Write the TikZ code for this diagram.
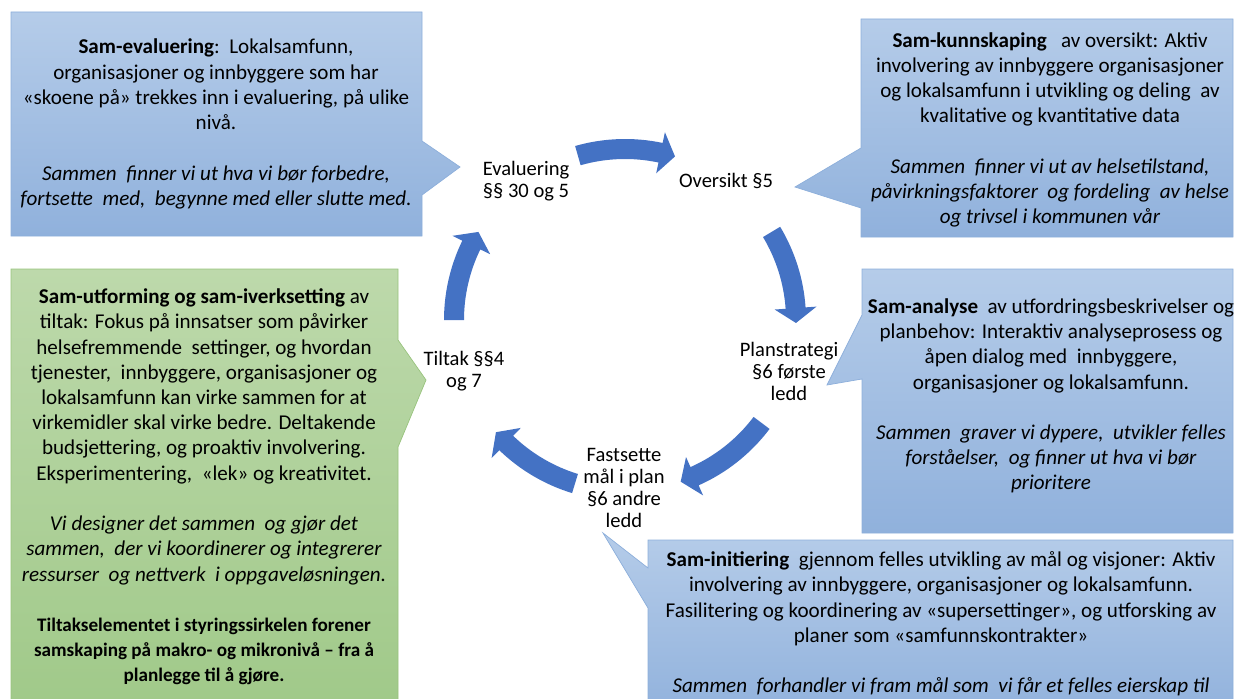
\documentclass[tikz,border=0pt]{standalone}
\usepackage{fontspec}
\setmainfont{Carlito}
\usepackage{xcolor}
\definecolor{boxtop}{HTML}{B5CCE9}
\definecolor{boxbot}{HTML}{90B1DC}
\definecolor{boxedge}{HTML}{8DAFDB}
\definecolor{greentop}{HTML}{BDD9AB}
\definecolor{greenbot}{HTML}{A0C989}
\definecolor{greenedge}{HTML}{98C37D}
\definecolor{arrowblue}{HTML}{4472C4}
\newcommand\closingline[1]{{\fontsize{10.9}{13.3}\selectfont\bfseries #1}}

\begin{document}
\begin{tikzpicture}[x=0.02cm, y=-0.02cm,
    bluecallout/.style = {draw=boxedge, top color=boxtop, bottom color=boxbot},
    greencallout/.style = {draw=greenedge, top color=greentop, bottom color=greenbot},
    boxtext/.style = {align=center, inner sep=0pt, font=\fontsize{12}{14.35}\selectfont},
    steplabel/.style = {align=center, inner sep=0pt, font=\fontsize{11.7}{12.5}\selectfont},
    cyclearrow/.style = {fill=arrowblue}]
  \clip (0,0) rectangle (1236,699);

  % callouts
  \path[bluecallout] (11,12) -- (422,12) -- (422,141) -- (460,167) -- (422,195)
    -- (422,236) -- (11,236) -- cycle;
  \path[bluecallout] (861,19) -- (1233,19) -- (1233,237) -- (861,237) -- (861,208)
    -- (795,187) -- (861,148) -- cycle;
  \path[bluecallout] (862,269) -- (1233,269) -- (1233,533) -- (862,533) -- (862,379)
    -- (827,385) -- (862,315) -- cycle;
  \path[greencallout] (11,269) -- (398,269) -- (398,340) -- (426,380) -- (398,447)
    -- (398,710) -- (11,710) -- cycle;
  \path[bluecallout] (648,540) -- (1233,540) -- (1233,720) -- (648,720) -- (648,608)
    -- (603,533) -- (648,568) -- cycle;

  \node[boxtext] (evaltext) at (216,124) {%
    \textbf{Sam-evaluering}:\ \ Lokalsamfunn,\\
    organisasjoner og innbyggere som har\\
    «skoene på» trekkes inn i evaluering, på ulike\\
    nivå.\\[14.35pt]
    \textit{Sammen\ \ finner vi ut hva vi bør forbedre,}\\
    \textit{fortsette\ \ med,\ \ begynne med eller slutte med.}};
  \node[boxtext] (oversikttext) at (1050,130) {%
    \textbf{Sam-kunnskaping}\ \ \ av oversikt: Aktiv\\
    involvering av innbyggere organisasjoner\\
    og lokalsamfunn i utvikling og deling\ \ av\\
    kvalitative og kvantitative data\\[14.35pt]
    \textit{Sammen\ \ finner vi ut av helsetilstand,}\\
    \textit{påvirkningsfaktorer\ \ og fordeling\ \ av helse}\\
    \textit{og trivsel i kommunen vår}};
  \node[boxtext] (analysetext) at (1051,396) {%
    \textbf{Sam-analyse}\ \ av utfordringsbeskrivelser og\\
    planbehov: Interaktiv analyseprosess og\\
    åpen dialog med\ \ innbyggere,\\
    organisasjoner og lokalsamfunn.\\[14.35pt]
    \textit{Sammen\ \ graver vi dypere,\ \ utvikler felles}\\
    \textit{forståelser,\ \ og finner ut hva vi bør}\\
    \textit{prioritere}};
  \node[boxtext] (tiltaktext) at (204,487) {%
    \textbf{Sam-utforming og sam-iverksetting} av\\
    tiltak: Fokus på innsatser som påvirker\\
    helsefremmende\ \ settinger, og hvordan\\
    tjenester,\ \ innbyggere, organisasjoner og\\
    lokalsamfunn kan virke sammen for at\\
    virkemidler skal virke bedre. Deltakende\\
    budsjettering, og proaktiv involvering.\\
    Eksperimentering,\ \ «lek» og kreativitet.\\[14.35pt]
    \textit{Vi designer det sammen\ \ og gjør det}\\
    \textit{sammen,\ \ der vi koordinerer og integrerer}\\
    \textit{ressurser\ \ og nettverk\ \ i oppgaveløsningen.}\\[14.35pt]
    \closingline{Tiltakselementet i styringssirkelen forener}\\
    \closingline{samskaping på makro- og mikronivå – fra å}\\
    \closingline{planlegge til å gjøre.}};
  \node[boxtext] (maltext) at (941,624) {%
    \textbf{Sam-initiering}\ \ gjennom felles utvikling av mål og visjoner: Aktiv\\
    involvering av innbyggere, organisasjoner og lokalsamfunn.\\
    Fasilitering og koordinering av «supersettinger», og utforsking av\\
    planer som «samfunnskontrakter»\\[14.35pt]
    \textit{Sammen\ \ forhandler vi fram mål som\ \ vi får et felles eierskap til}};

  % the cycle
  \begin{scope}[shift={(625,320)}, yscale=-1]
    \foreach \from/\to in {106/73, 31/-1, -37/-71, -107/-139, 180/149} {
      \pgfmathsetmacro\base{\to+5}
      \fill[cyclearrow] (\from:181) arc[start angle=\from, end angle=\base, radius=181]
        -- (\base:192) -- (\to:171) -- (\base:150) -- (\base:161)
        arc[start angle=\base, end angle=\from, radius=161] -- cycle;
    }
  \end{scope}

  \node[steplabel] (evaluering) at (526,181) {Evaluering\\§§ 30 og 5};
  \node[steplabel] (oversikt) at (726,181) {Oversikt §5};
  \node[steplabel] (planstrategi) at (789,371) {Planstrategi\\§6 første\\ledd};
  \node[steplabel] (fastsette) at (624,488) {Fastsette\\mål i plan\\§6 andre\\ledd};
  \node[steplabel] (tiltak) at (464,371) {Tiltak §§4\\og 7};
\end{tikzpicture}
\end{document}
